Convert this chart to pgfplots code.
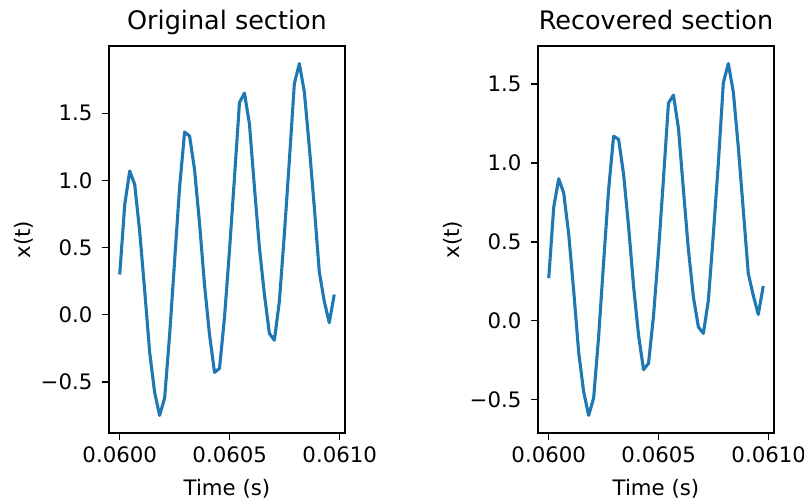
\documentclass[border=0pt]{standalone}
\usepackage{fontspec}
\setmainfont{DejaVu Sans}
\usepackage{pgfplots}
\pgfplotsset{compat=1.18}
\usepackage{pgfplotstable}

\definecolor{mplblue}{HTML}{1F77B4}

% Samples at 44.1 kHz, t = 0.0600 s ... 0.06098 s
\pgfplotstableread{
t          orig   rec
0.0600000  0.30   0.27
0.0600227  0.82   0.72
0.0600454  1.07   0.90
0.0600680  0.97   0.81
0.0600907  0.62   0.55
0.0601134  0.18   0.19
0.0601361  -0.28  -0.20
0.0601587  -0.58  -0.45
0.0601814  -0.75  -0.60
0.0602041  -0.62  -0.49
0.0602268  -0.15  -0.10
0.0602494  0.40   0.37
0.0602721  0.95   0.83
0.0602948  1.36   1.17
0.0603175  1.33   1.15
0.0603401  1.08   0.93
0.0603628  0.68   0.60
0.0603855  0.22   0.22
0.0604082  -0.15  -0.09
0.0604308  -0.43  -0.31
0.0604535  -0.40  -0.27
0.0604762  -0.02  0.03
0.0604989  0.48   0.44
0.0605215  1.02   0.90
0.0605442  1.58   1.38
0.0605669  1.65   1.43
0.0605896  1.42   1.22
0.0606122  0.95   0.83
0.0606349  0.50   0.45
0.0606576  0.15   0.15
0.0606803  -0.14  -0.04
0.0607029  -0.19  -0.08
0.0607256  0.10   0.13
0.0607483  0.60   0.55
0.0607710  1.15   1.00
0.0607937  1.72   1.51
0.0608163  1.87   1.63
0.0608390  1.66   1.45
0.0608617  1.25   1.10
0.0608844  0.80   0.70
0.0609070  0.32   0.30
0.0609297  0.10   0.16
0.0609524  -0.06  0.04
0.0609751  0.15   0.22
}\sections

\pgfplotsset{
  sectionaxis/.style={
    scale only axis,
    width=236pt, height=387pt,
    anchor=south west,
    axis line style={black, line width=1.5pt},
    tick style={black, line width=1.5pt},
    tick align=outside,
    major tick length=7pt,
    xtick pos=bottom, ytick pos=left,
    scaled x ticks=false,
    xmin=0.0599512, xmax=0.0610239,
    xtick={0.0600,0.0605,0.0610},
    xticklabels={0.0600,0.0605,0.0610},
    ticklabel style={font=\fontsize{21.3}{25}\selectfont},
    xticklabel style={yshift=-3pt},
    yticklabel style={xshift=-6pt},
    label style={font=\fontsize{21.3}{25}\selectfont},
    xlabel={Time (s)},
    ylabel={x(t)},
    xlabel style={at={(axis description cs:0.5,-0.162)}, anchor=base},
    ylabel style={at={(axis description cs:-0.333,0.5)}, anchor=base, rotate=0},
    title style={at={(axis description cs:0.5,1.028)}, anchor=base,
                 font=\fontsize{25.5}{30}\selectfont},
  },
}

\begin{document}
\begin{tikzpicture}
\path[use as bounding box] (0,0) rectangle (804pt,501pt);

\begin{axis}[sectionaxis, at={(109pt,68pt)},
  title={Original section},
  ymin=-0.881, ymax=2.001,
  ytick={-0.5,0,0.5,1,1.5},
  yticklabels={−0.5,0.0,0.5,1.0,1.5},
]
\addplot[mplblue, line width=3.1pt, line join=round] table[x=t, y=orig] {\sections};
\end{axis}

\begin{axis}[sectionaxis, at={(538pt,68pt)},
  title={Recovered section},
  ymin=-0.7115, ymax=1.7415,
  ytick={-0.5,0,0.5,1,1.5},
  yticklabels={−0.5,0.0,0.5,1.0,1.5},
]
\addplot[mplblue, line width=3.1pt, line join=round] table[x=t, y=rec] {\sections};
\end{axis}
\end{tikzpicture}
\end{document}
